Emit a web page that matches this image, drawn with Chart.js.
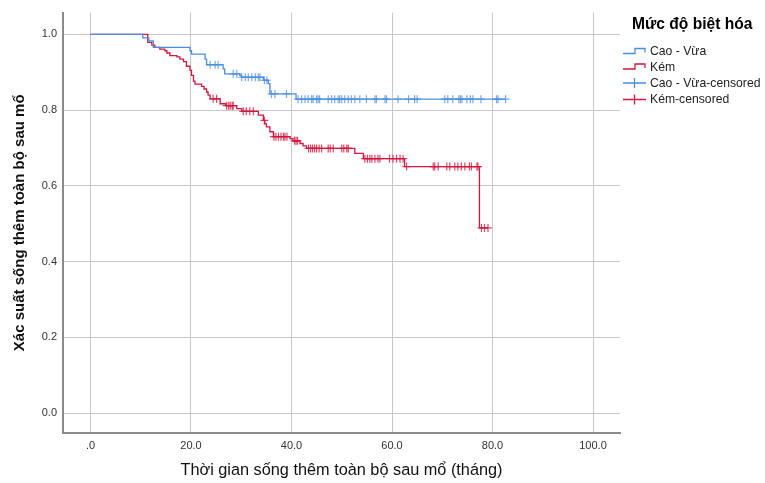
<!DOCTYPE html>
<html>
<head>
<meta charset="utf-8">
<script src="https://cdn.jsdelivr.net/npm/chart.js@4/dist/chart.umd.min.js"></script>
<style>
  body { margin: 0; background: #fff; }
  canvas { display: block; }
</style>
</head>
<body>
<canvas id="kmChart" width="765" height="483"></canvas>
<script>
// Kaplan-Meier: event times (months) and survival after each drop
const caoVuaTimes = [0, 10.4, 11.6, 12.5, 19.8, 20.1, 22.8, 23.1, 26.4, 26.7, 29.7, 30.0, 34.4, 35.4, 35.7, 40.9];
const caoVuaSurv  = [1.0, 0.991, 0.983, 0.966, 0.957, 0.948, 0.935, 0.920, 0.909, 0.896, 0.892, 0.887, 0.879, 0.870, 0.843, 0.829];
const caoVuaCensored = [23.8, 24.8, 25.4, 28.4, 29.1, 30.1, 30.8, 31.4, 32.1, 32.8, 33.4, 33.7, 34.6, 35.1, 36.0, 36.7, 39.0,
    41.3, 42.0, 42.7, 43.3, 44.0, 44.3, 45.0, 45.3, 45.6, 47.3, 48.0, 48.6, 49.3, 49.6, 50.0, 50.6, 51.3, 51.9, 52.6,
    53.6, 54.9, 56.6, 56.9, 58.6, 58.9, 61.2, 63.3, 64.5, 65.0, 70.5, 71.1, 72.1, 73.3, 73.6, 73.9, 74.9, 75.6, 76.1,
    77.7, 80.8, 81.1, 82.6];

const kemTimes = [0, 11.4, 12.2, 12.8, 13.8, 14.8, 15.2, 15.8, 17.2, 17.8, 18.5, 19.1, 19.8, 20.1, 20.5, 20.8, 22.1, 22.6,
    23.1, 23.4, 23.8, 25.8, 26.9, 29.1, 30.1, 33.4, 34.4, 34.7, 35.0, 35.7, 36.4, 39.7, 40.3, 41.7, 42.3, 43.0, 52.6,
    54.3, 62.5, 77.4];
const kemSurv = [1.0, 0.979, 0.972, 0.966, 0.961, 0.957, 0.951, 0.944, 0.941, 0.935, 0.928, 0.916, 0.905, 0.892, 0.877,
    0.869, 0.863, 0.856, 0.848, 0.840, 0.830, 0.817, 0.812, 0.804, 0.797, 0.787, 0.773, 0.764, 0.756, 0.743, 0.730,
    0.725, 0.719, 0.712, 0.706, 0.699, 0.686, 0.672, 0.651, 0.489];
const kemCensored = [24.4, 25.1, 27.1, 27.5, 27.8, 28.2, 28.4, 30.4, 31.0, 31.7, 32.4, 34.6, 36.5, 36.9, 37.4, 37.9, 38.4,
    38.7, 39.1, 40.6, 40.9, 41.2, 43.4, 43.8, 44.2, 44.6, 45.0, 45.5, 46.0, 47.3, 47.7, 48.3, 50.0, 50.4, 51.0, 51.3,
    54.6, 55.1, 55.6, 56.0, 56.6, 57.2, 57.6, 59.5, 60.2, 60.9, 61.6, 62.2, 62.9, 68.2, 68.5, 69.2, 70.9, 71.5, 72.5,
    73.1, 73.8, 74.5, 75.4, 75.8, 76.9, 77.1, 77.8, 78.4, 79.1];

const xTicks = [0, 20, 40, 60, 80, 100];
const xTickLabels = ['.0', '20.0', '40.0', '60.0', '80.0', '100.0'];
const yTicks = [0, 0.2, 0.4, 0.6, 0.8, 1.0];
const yTickLabels = ['0.0', '0.2', '0.4', '0.6', '0.8', '1.0'];

const FONT = "'Liberation Sans', Arial, sans-serif";
const BLUE = '#4a8ee0';
const BLUE_MARK = 'rgba(74,142,224,0.75)';
const RED = '#d3163f';
const RED_MARK = 'rgba(211,22,63,0.8)';

// step curve points, extended to the last censored time
function curvePoints(times, surv, censored) {
    const pts = times.map((t, i) => ({ x: t, y: surv[i] }));
    const last = censored[censored.length - 1];
    if (last > times[times.length - 1]) pts.push({ x: last, y: surv[surv.length - 1] });
    return pts;
}
// censored marks sit on the curve
function censorPoints(times, surv, censored) {
    return censored.map(t => {
        let s = surv[0];
        for (let i = 0; i < times.length; i++) if (times[i] <= t) s = surv[i];
        return { x: t, y: s };
    });
}

// legend drawn by hand (SPSS style)
const kmLegend = {
    id: 'kmLegend',
    afterDraw(chart) {
        const ctx = chart.ctx;
        ctx.save();
        ctx.fillStyle = '#000';
        ctx.font = 'bold 15.6px ' + FONT;
        ctx.textBaseline = 'middle';
        ctx.fillText('Mức độ biệt hóa', 632, 25);
        const items = [
            { text: 'Cao - Vừa', color: BLUE, kind: 'step', y: 51.5 },
            { text: 'Kém', color: RED, kind: 'step', y: 67 },
            { text: 'Cao - Vừa-censored', color: BLUE, kind: 'cross', y: 83 },
            { text: 'Kém-censored', color: RED, kind: 'cross', y: 99.5 }
        ];
        ctx.font = '12.2px ' + FONT;
        items.forEach(it => {
            ctx.strokeStyle = it.color;
            ctx.lineWidth = 1.3;
            ctx.beginPath();
            if (it.kind === 'step') {
                ctx.moveTo(623, it.y + 2);
                ctx.lineTo(635, it.y + 2);
                ctx.lineTo(635, it.y - 3);
                ctx.lineTo(645, it.y - 3);
                ctx.lineTo(645, it.y + 1);
            } else {
                ctx.moveTo(623, it.y);
                ctx.lineTo(646, it.y);
                ctx.moveTo(634.5, it.y - 5);
                ctx.lineTo(634.5, it.y + 5);
            }
            ctx.stroke();
            ctx.fillStyle = '#222';
            ctx.fillText(it.text, 650, it.y + 0.5);
        });
        ctx.restore();
    }
};

new Chart(document.getElementById('kmChart').getContext('2d'), {
    type: 'line',
    data: {
        datasets: [{
            label: 'Cao - Vừa',
            data: curvePoints(caoVuaTimes, caoVuaSurv, caoVuaCensored),
            borderColor: BLUE,
            borderWidth: 1.3,
            stepped: 'before',
            pointRadius: 0,
            fill: false
        }, {
            label: 'Kém',
            data: curvePoints(kemTimes, kemSurv, kemCensored),
            borderColor: RED,
            borderWidth: 1.3,
            stepped: 'before',
            pointRadius: 0,
            fill: false
        }, {
            type: 'scatter',
            label: 'Cao - Vừa-censored',
            data: censorPoints(caoVuaTimes, caoVuaSurv, caoVuaCensored),
            pointStyle: 'cross',
            pointRadius: 4,
            borderColor: BLUE_MARK,
            borderWidth: 1.2
        }, {
            type: 'scatter',
            label: 'Kém-censored',
            data: censorPoints(kemTimes, kemSurv, kemCensored),
            pointStyle: 'cross',
            pointRadius: 4,
            borderColor: RED_MARK,
            borderWidth: 1.2
        }]
    },
    options: {
        responsive: false,
        animation: false,
        events: [],
        layout: { padding: { left: 0, top: 10, right: 145, bottom: 0 } },
        plugins: {
            legend: { display: false },
            tooltip: { enabled: false }
        },
        scales: {
            x: {
                type: 'linear',
                min: -5.47,
                max: 105.37,
                afterBuildTicks: s => { s.ticks = xTicks.map(v => ({ value: v })); },
                afterFit: s => { s.height = 50; },
                ticks: {
                    padding: 6,
                    color: '#333',
                    font: { family: FONT, size: 11 },
                    callback: v => xTickLabels[xTicks.indexOf(v)]
                },
                grid: { color: '#c8c8c8', lineWidth: 1, drawTicks: false },
                border: { color: '#8a8a8a', width: 2 },
                title: {
                    display: true,
                    text: 'Thời gian sống thêm toàn bộ sau mổ (tháng)',
                    color: '#111',
                    font: { family: FONT, size: 16.3 },
                    padding: { top: 0, bottom: 3 }
                }
            },
            y: {
                type: 'linear',
                min: -0.0525,
                max: 1.0577,
                afterBuildTicks: s => { s.ticks = yTicks.map(v => ({ value: v })); },
                afterFit: s => { s.width = 63; },
                ticks: {
                    padding: 6,
                    color: '#333',
                    font: { family: FONT, size: 11 },
                    callback: v => yTickLabels[yTicks.indexOf(v)]
                },
                grid: { color: '#c8c8c8', lineWidth: 1, drawTicks: false },
                border: { color: '#8a8a8a', width: 2 },
                title: {
                    display: true,
                    text: 'Xác suất sống thêm toàn bộ sau mổ',
                    color: '#111',
                    font: { family: FONT, size: 15, weight: 'bold' },
                    padding: { top: 11, bottom: 0 }
                }
            }
        }
    },
    plugins: [kmLegend]
});
</script>
</body>
</html>
